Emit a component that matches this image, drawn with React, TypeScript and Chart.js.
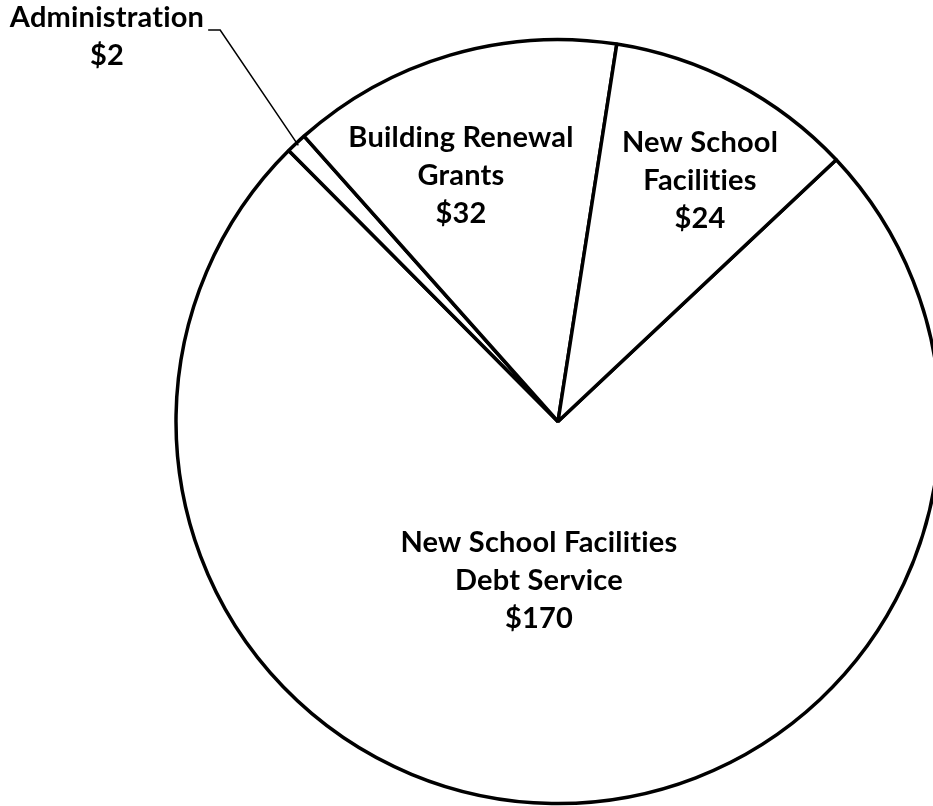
import React, { useEffect, useRef } from "react";
import { Chart, registerables } from "chart.js";

Chart.register(...registerables);

// Data (clockwise from the rotation start)
const categories: string[][] = [
  ["New School Facilities", "Debt Service"],
  ["Administration"],
  ["Building Renewal", "Grants"],
  ["New School", "Facilities"],
];
const values: number[] = [170, 2, 32, 24];

// Label layout (center x, first baseline y) — presentation only
const labelAnchors: { x: number; y: number }[] = [
  { x: 539, y: 552 },
  { x: 107, y: 27 },
  { x: 461, y: 147 },
  { x: 700, y: 152 },
];
const LINE_GAP = 38;
const FONT = "bold 29px Lato, 'Open Sans', sans-serif";

const labelPlugin = {
  id: "pieLabels",
  afterDraw(chart: any) {
    const ctx = chart.ctx as CanvasRenderingContext2D;
    ctx.save();
    ctx.fillStyle = "#000";
    ctx.font = FONT;
    (ctx as any).letterSpacing = "0.2px";
    ctx.textAlign = "center";
    ctx.textBaseline = "alphabetic";
    categories.forEach((lines, i) => {
      const a = labelAnchors[i];
      const all = [...lines, "$" + values[i]];
      all.forEach((t, j) => ctx.fillText(t, a.x, a.y + j * LINE_GAP));
    });
    // leader line for Administration
    const meta = chart.getDatasetMeta(0);
    const arc = meta.data[1] as any;
    const props = arc.getProps(["x", "y", "startAngle", "endAngle", "outerRadius"], true);
    const mid = (props.startAngle + props.endAngle) / 2;
    const ex = props.x + Math.cos(mid) * (props.outerRadius - 3);
    const ey = props.y + Math.sin(mid) * (props.outerRadius - 3);
    const w = ctx.measureText(categories[1][0]).width;
    const sx = labelAnchors[1].x + w / 2 + 4;
    const sy = labelAnchors[1].y + 3;
    ctx.strokeStyle = "#000";
    ctx.lineWidth = 1.5;
    ctx.beginPath();
    ctx.moveTo(sx, sy);
    ctx.lineTo(sx + 12, sy);
    ctx.lineTo(ex, ey);
    ctx.stroke();
    ctx.restore();
  },
};

export default function App() {
  const ref = useRef<HTMLCanvasElement | null>(null);
  useEffect(() => {
    document.body.style.margin = "0";
    const chart = new Chart(ref.current!, {
      type: "pie",
      data: {
        labels: categories.map((c) => c.join(" ")),
        datasets: [
          {
            data: values,
            backgroundColor: "#ffffff",
            borderColor: "#000000",
            borderWidth: 3.5,
          },
        ],
      },
      options: {
        animation: false,
        responsive: true,
        maintainAspectRatio: false,
        rotation: 46.75,
        radius: 382,
        layout: { padding: { left: 183, right: 0, top: 37, bottom: 0 } },
        plugins: { legend: { display: false }, tooltip: { enabled: false } },
      },
      plugins: [labelPlugin],
    });
    return () => chart.destroy();
  }, []);
  return (
    <div style={{ position: "fixed", left: 0, top: 0, width: 933, height: 806, overflow: "hidden", background: "#fff" }}>
      <canvas ref={ref} />
    </div>
  );
}
